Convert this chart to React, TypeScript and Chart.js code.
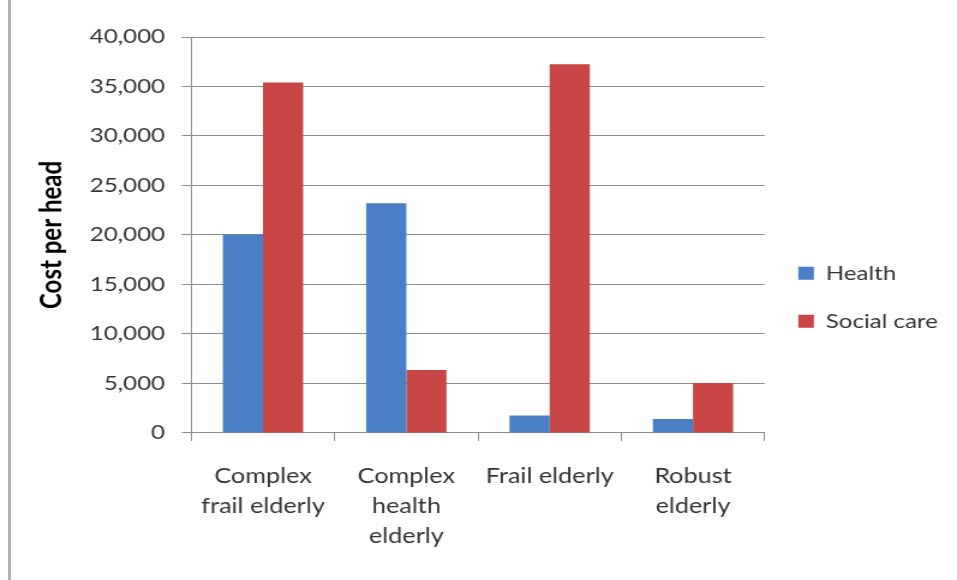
import React, { useEffect, useRef } from "react";
import { Chart, registerables } from "chart.js";

Chart.register(...registerables);

const categories: (string | string[])[] = [
  ["Complex", "frail elderly"],
  ["Complex", "health", "elderly"],
  "Frail elderly",
  ["Robust", "elderly"],
];
const healthValues = [20050, 23200, 1750, 1400];
const socialCareValues = [35400, 6350, 37250, 5050];
const seriesNames = ["Health", "Social care"];
const yTicks = { min: 0, max: 40000, step: 5000 };
const yAxisTitle = "Cost per head";

const FONT = "Lato, 'Open Sans', 'DejaVu Sans', sans-serif";
// The reference is horizontally stretched; draw narrower and widen with CSS.
const VIEW_W = 957;
const VIEW_H = 580;
const CANVAS_W = 797;

export default function App() {
  const ref = useRef<HTMLCanvasElement | null>(null);

  useEffect(() => {
    if (!ref.current) return;
    const chart = new Chart(ref.current, {
      type: "bar",
      data: {
        labels: categories,
        datasets: [
          {
            label: seriesNames[0],
            data: healthValues,
            backgroundColor: "#4A7FC6",
            borderWidth: 0,
            categoryPercentage: 0.56,
            barPercentage: 1.0,
          },
          {
            label: seriesNames[1],
            data: socialCareValues,
            backgroundColor: "#C84545",
            borderWidth: 0,
            categoryPercentage: 0.56,
            barPercentage: 1.0,
          },
        ],
      },
      options: {
        animation: false,
        responsive: false,
        maintainAspectRatio: false,
        devicePixelRatio: 1,
        layout: { padding: { left: 29, right: 6, top: 37, bottom: 9 } },
        plugins: {
          tooltip: { enabled: false },
          legend: {
            position: "right",
            align: "start",
            title: {
              display: true,
              text: "",
              font: { size: 1 },
              padding: { top: 0, bottom: 197 },
            },
            labels: {
              boxWidth: 13,
              boxHeight: 13,
              padding: 28,
              color: "#333333",
              font: { family: FONT, size: 20 },
            },
          },
        },
        scales: {
          x: {
            offset: true,
            grid: {
              offset: true,
              drawOnChartArea: false,
              drawTicks: true,
              tickLength: 8,
              color: "#8c8c8c",
            },
            border: { display: true, color: "#8c8c8c" },
            ticks: {
              color: "#333333",
              padding: 20,
              maxRotation: 0,
              autoSkip: false,
              font: { family: FONT, size: 21, lineHeight: 1.43 },
            },
          },
          y: {
            min: yTicks.min,
            max: yTicks.max,
            grid: { color: "#8c8c8c", tickLength: 8, lineWidth: 1 },
            border: { display: true, color: "#8c8c8c" },
            ticks: {
              stepSize: yTicks.step,
              color: "#333333",
              padding: 14,
              font: { family: FONT, size: 20 },
              callback: (v: any) => Number(v).toLocaleString("en-US"),
            },
            title: {
              display: true,
              text: yAxisTitle,
              color: "#000000",
              padding: { top: 0, bottom: 3 },
              font: { family: FONT, size: 24, weight: "bold" },
            },
          },
        },
      },
    });
    return () => chart.destroy();
  }, []);

  return (
    <div
      style={{
        position: "fixed",
        left: 0,
        top: 0,
        width: VIEW_W,
        height: VIEW_H,
        background: "#ffffff",
        overflow: "hidden",
      }}
    >
      <canvas
        ref={ref}
        width={CANVAS_W}
        height={VIEW_H}
        style={{ position: "absolute", left: 0, top: 0, width: VIEW_W, height: VIEW_H }}
      />
      <div
        style={{
          position: "absolute",
          left: 8,
          top: 0,
          width: 3,
          height: VIEW_H,
          background: "#b5b5b5",
        }}
      />
    </div>
  );
}
